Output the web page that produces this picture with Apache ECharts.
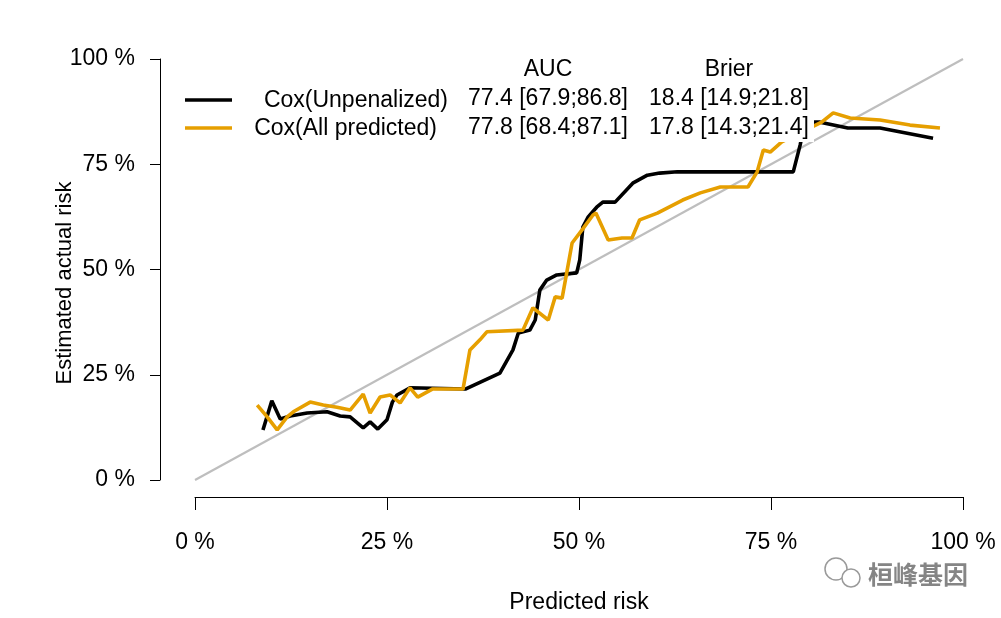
<!DOCTYPE html>
<html>
<head>
<meta charset="utf-8">
<script src="https://cdn.jsdelivr.net/npm/echarts@6/dist/echarts.min.js"></script>
<style>html,body{margin:0;padding:0;background:#fff}#c{width:1001px;height:618px}</style>
</head>
<body>
<div id="c"></div>
<script>
// ---- data ----
const xTicks = [0, 25, 50, 75, 100];
const seriesNames = ['Cox(Unpenalized)', 'Cox(All predicted)'];
const aucText = ['77.4 [67.9;86.8]', '77.8 [68.4;87.1]'];
const brierText = ['18.4 [14.9;21.8]', '17.8 [14.3;21.4]'];
const coxUnpenX = [8.85,10.0,11.1,12.4,14.6,17.2,18.9,20.2,21.9,22.8,23.8,25.0,25.7,26.3,28.0,35.2,39.7,41.4,42.1,43.6,44.3,44.9,45.8,47.1,49.7,50.1,50.5,51.2,52.3,53.1,54.7,57.0,58.9,60.5,62.8,77.9,78.8,79.4,81.4,85.0,89.2,96.1];
const coxUnpenY = [11.9,18.8,14.5,15.2,15.9,16.2,15.2,15.0,12.4,13.8,12.1,14.3,18.5,20.2,21.9,21.6,25.4,30.9,34.9,35.6,38.0,45.1,47.5,48.7,49.2,52.3,60.1,62.5,64.8,66.0,66.0,70.5,72.4,72.9,73.2,73.2,79.6,85.0,85.0,83.6,83.6,81.2];
const coxAllX = [8.1,9.4,10.7,12.0,12.8,15.0,16.7,18.5,20.2,21.9,22.8,24.1,25.4,26.7,28.0,29.0,30.9,34.9,35.8,37.1,38.0,42.7,44.0,46.0,46.9,47.8,48.4,49.1,50.4,51.8,52.2,53.8,55.6,56.9,57.9,60.2,63.5,65.8,68.4,72.0,73.2,74.0,74.9,76.4,81.6,83.1,85.3,89.2,93.1,97.0];
const coxAllY = [17.8,15.0,11.9,15.0,16.2,18.5,17.8,17.3,16.6,20.4,15.9,19.7,20.2,18.3,21.9,19.7,21.6,21.6,30.9,33.3,35.2,35.6,40.9,38.0,43.5,43.2,49.2,56.3,59.4,62.9,63.4,57.0,57.5,57.5,61.8,63.4,66.5,68.2,69.6,69.6,73.2,78.4,77.9,80.3,85.0,87.2,86.0,85.5,84.3,83.6];
const diagonal = [[0,0],[100,100]];

const zip = (xs, ys) => xs.map((x, i) => [x, ys[i]]);
const FONT = 'Liberation Sans, Arial, sans-serif';
const LF = '23px ' + FONT;

const chart = echarts.init(document.getElementById('c'), null, {renderer: 'canvas'});
chart.setOption({
  backgroundColor: '#fff',
  animation: false,
  grid: {left: 195, right: 38, top: 59, bottom: 138, containLabel: false, outerBoundsMode: 'none'},
  xAxis: {
    type: 'value', min: 0, max: 100, interval: 25, offset: 17,
    name: 'Predicted risk', nameLocation: 'middle', nameGap: 94,
    nameTextStyle: {fontFamily: FONT, fontSize: 23, color: '#000'},
    axisLine: {show: true, onZero: false, lineStyle: {color: '#000', width: 1}},
    axisTick: {show: true, length: 13, lineStyle: {color: '#000'}},
    axisLabel: {formatter: '{value} %', fontFamily: FONT, fontSize: 23, color: '#000', margin: 34},
    splitLine: {show: false}
  },
  yAxis: {
    type: 'value', min: 0, max: 100, interval: 25, offset: 35,
    axisLine: {show: true, onZero: false, lineStyle: {color: '#000', width: 1}},
    axisTick: {show: true, length: 10, lineStyle: {color: '#000'}},
    axisLabel: {formatter: '{value} %', fontFamily: FONT, fontSize: 23, color: '#000', margin: 25},
    splitLine: {show: false}
  },
  series: [
    {type: 'line', data: diagonal, symbol: 'none', silent: true, z: 1,
     lineStyle: {color: '#BEBEBE', width: 2.2}},
    {name: seriesNames[0], type: 'line', data: zip(coxUnpenX, coxUnpenY), symbol: 'none', z: 3,
     lineStyle: {color: '#000000', width: 3.6}},
    {name: seriesNames[1], type: 'line', data: zip(coxAllX, coxAllY), symbol: 'none', z: 4,
     lineStyle: {color: '#E69F00', width: 3.6}}
  ],
  graphic: [
    {type: 'text', z: 101, x: 65, y: 283, rotation: Math.PI / 2,
     style: {text: 'Estimated actual risk', font: '22px ' + FONT, fill: '#000', textAlign: 'center', textVerticalAlign: 'middle'}},
    {type: 'rect', z: 100, shape: {x: 178, y: 52, width: 636, height: 90}, style: {fill: '#fff'}},
    {type: 'line', z: 101, shape: {x1: 185, y1: 100, x2: 232, y2: 100}, style: {stroke: '#000', lineWidth: 3.6}},
    {type: 'line', z: 101, shape: {x1: 185, y1: 128, x2: 232, y2: 128}, style: {stroke: '#E69F00', lineWidth: 3.6}},
    {type: 'text', z: 101, x: 448, y: 101, style: {text: seriesNames[0], font: LF, fill: '#000', textAlign: 'right', textVerticalAlign: 'middle'}},
    {type: 'text', z: 101, x: 437, y: 129, style: {text: seriesNames[1], font: LF, fill: '#000', textAlign: 'right', textVerticalAlign: 'middle'}},
    {type: 'text', z: 101, x: 548, y: 70, style: {text: 'AUC', font: LF, fill: '#000', textAlign: 'center', textVerticalAlign: 'middle'}},
    {type: 'text', z: 101, x: 729, y: 70, style: {text: 'Brier', font: LF, fill: '#000', textAlign: 'center', textVerticalAlign: 'middle'}},
    {type: 'text', z: 101, x: 548, y: 99, style: {text: aucText[0], font: LF, fill: '#000', textAlign: 'center', textVerticalAlign: 'middle'}},
    {type: 'text', z: 101, x: 548, y: 128, style: {text: aucText[1], font: LF, fill: '#000', textAlign: 'center', textVerticalAlign: 'middle'}},
    {type: 'text', z: 101, x: 729, y: 99, style: {text: brierText[0], font: LF, fill: '#000', textAlign: 'center', textVerticalAlign: 'middle'}},
    {type: 'text', z: 101, x: 729, y: 128, style: {text: brierText[1], font: LF, fill: '#000', textAlign: 'center', textVerticalAlign: 'middle'}},
    // watermark
    {type: 'circle', z: 101, shape: {cx: 836, cy: 569, r: 11}, style: {fill: 'none', stroke: '#9a9a9a', lineWidth: 1.5}},
    {type: 'circle', z: 101, shape: {cx: 851, cy: 578, r: 9}, style: {fill: '#fff', stroke: '#9a9a9a', lineWidth: 1.5}},
    {type: 'text', z: 101, x: 868, y: 574, style: {text: '桓峰基因', font: 'bold 25px "Noto Sans CJK SC"', fill: '#858585', textAlign: 'left', textVerticalAlign: 'middle'}}
  ]
});
</script>
</body>
</html>
